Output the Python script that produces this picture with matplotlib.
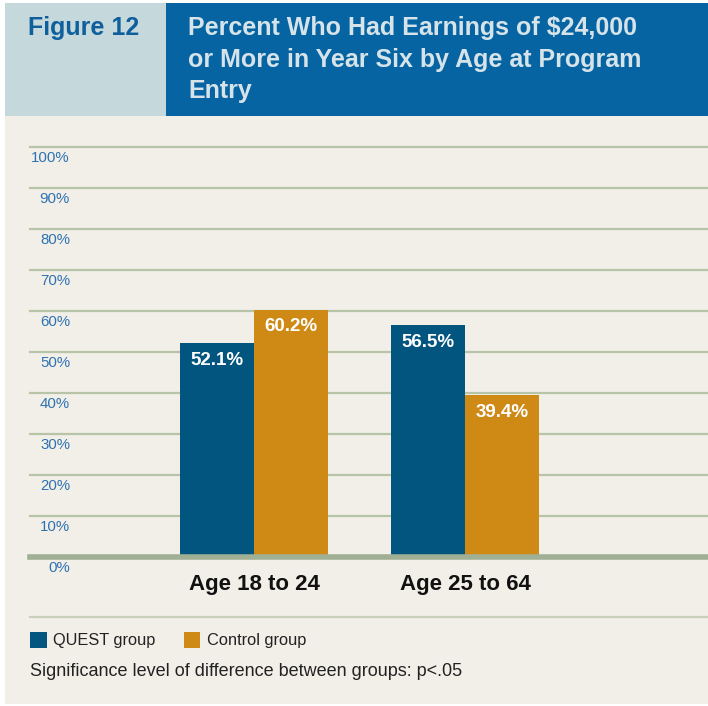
import matplotlib
matplotlib.use("Agg")
import matplotlib.pyplot as plt
from matplotlib.patches import Rectangle
from matplotlib.lines import Line2D
import numpy as np

categories = ["Age 18 to 24", "Age 25 to 64"]
quest = [52.1, 56.5]
control = [60.2, 39.4]
series_names = ["QUEST group", "Control group"]
yticks = list(range(0, 101, 10))

W, H = 708, 706
narrow = ["Liberation Sans", "DejaVu Sans"]
blue_bar = "#02557f"
gold_bar = "#cf8a16"
cream = "#f2efe8"
grid_c = "#b8c4a8"

fig = plt.figure(figsize=(W / 100, H / 100), dpi=100)
fig.patch.set_facecolor("white")


def fx(px):
    return px / W


def fy(py):
    return 1 - py / H


def frect(x0, y0, x1, y1, color):
    fig.add_artist(Rectangle((fx(x0), fy(y1)), fx(x1) - fx(x0), fy(y0) - fy(y1),
                             transform=fig.transFigure, facecolor=color,
                             edgecolor="none", zorder=0))


# panels
frect(5, 116, 708, 704, cream)
frect(5, 3, 166, 116, "#c5d8dc")
frect(166, 3, 708, 116, "#0764a3")

fig.text(fx(28), fy(28), "Figure 12", family=narrow, fontsize=18, fontweight="bold",
         color="#0e5f9c", va="center", ha="left")
title_lines = ["Percent Who Had Earnings of $24,000",
               "or More in Year Six by Age at Program",
               "Entry"]
for i, line in enumerate(title_lines):
    fig.text(fx(188), fy(28 + 31.5 * i), line, family=narrow, fontsize=18,
             fontweight="bold", color="#d6e4ea", va="center", ha="left")

# chart axes: y=0 at 557px, y=100 at 147px
ax_left, ax_right = 30, 708
ax = fig.add_axes([fx(ax_left), fy(557), fx(ax_right) - fx(ax_left), fy(147) - fy(557)])
ax.set_facecolor("none")
ax.set_ylim(0, 100)
unit = 211.0
c0 = 254
ax.set_xlim(-(c0 - ax_left) / unit, (ax_right - c0) / unit)
for s in ax.spines.values():
    s.set_visible(False)
ax.set_xticks([])
ax.set_yticks([])

for v in yticks[1:]:
    ax.axhline(v, color=grid_c, lw=1.6, zorder=1, clip_on=False)
ax.axhline(0, color="#a0b095", lw=4, zorder=3, clip_on=False)

x = np.arange(len(categories))
bw = 74 / unit
b1 = ax.bar(x - bw / 2, quest, bw, color=blue_bar, zorder=2)
b2 = ax.bar(x + bw / 2, control, bw, color=gold_bar, zorder=2)

for bars, vals in ((b1, quest), (b2, control)):
    for rect, v in zip(bars, vals):
        ax.annotate(f"{v:.1f}%", (rect.get_x() + rect.get_width() / 2, v),
                    xytext=(0, -12), textcoords="offset points", ha="center",
                    va="center", color="white", fontsize=13.5, fontweight="bold",
                    family=["Liberation Sans", "DejaVu Sans"], zorder=4)

# tick labels sit below their gridlines
for v in yticks:
    ax.annotate(f"{v}%", ((70 - ax_left) / (ax_right - ax_left), v),
                xycoords=("axes fraction", "data"), xytext=(0, -8),
                textcoords="offset points", ha="right", va="center",
                fontsize=10.8, color="#2e72b2", family=narrow)

for xi, cat in zip(x, categories):
    ax.annotate(cat, (xi, 0), xytext=(0, -20), textcoords="offset points",
                ha="center", va="center", fontsize=16, fontweight="bold",
                color="#111111", family=narrow, annotation_clip=False)

# separator and legend
fig.add_artist(Line2D([fx(30), fx(708)], [fy(617), fy(617)], transform=fig.transFigure,
                      color="#c8cfbb", lw=1.6))
frect(30, 632, 47, 648, blue_bar)
frect(184, 632, 200, 648, gold_bar)
fig.text(fx(53), fy(641), series_names[0], family=narrow, fontsize=11.8,
         color="#222222", va="center", ha="left")
fig.text(fx(207), fy(641), series_names[1], family=narrow, fontsize=11.8,
         color="#222222", va="center", ha="left")
fig.text(fx(30), fy(671), "Significance level of difference between groups: p<.05",
         family=narrow, fontsize=13, color="#222222", va="center", ha="left")

fig.savefig("out.png", dpi=100, facecolor=fig.get_facecolor())
